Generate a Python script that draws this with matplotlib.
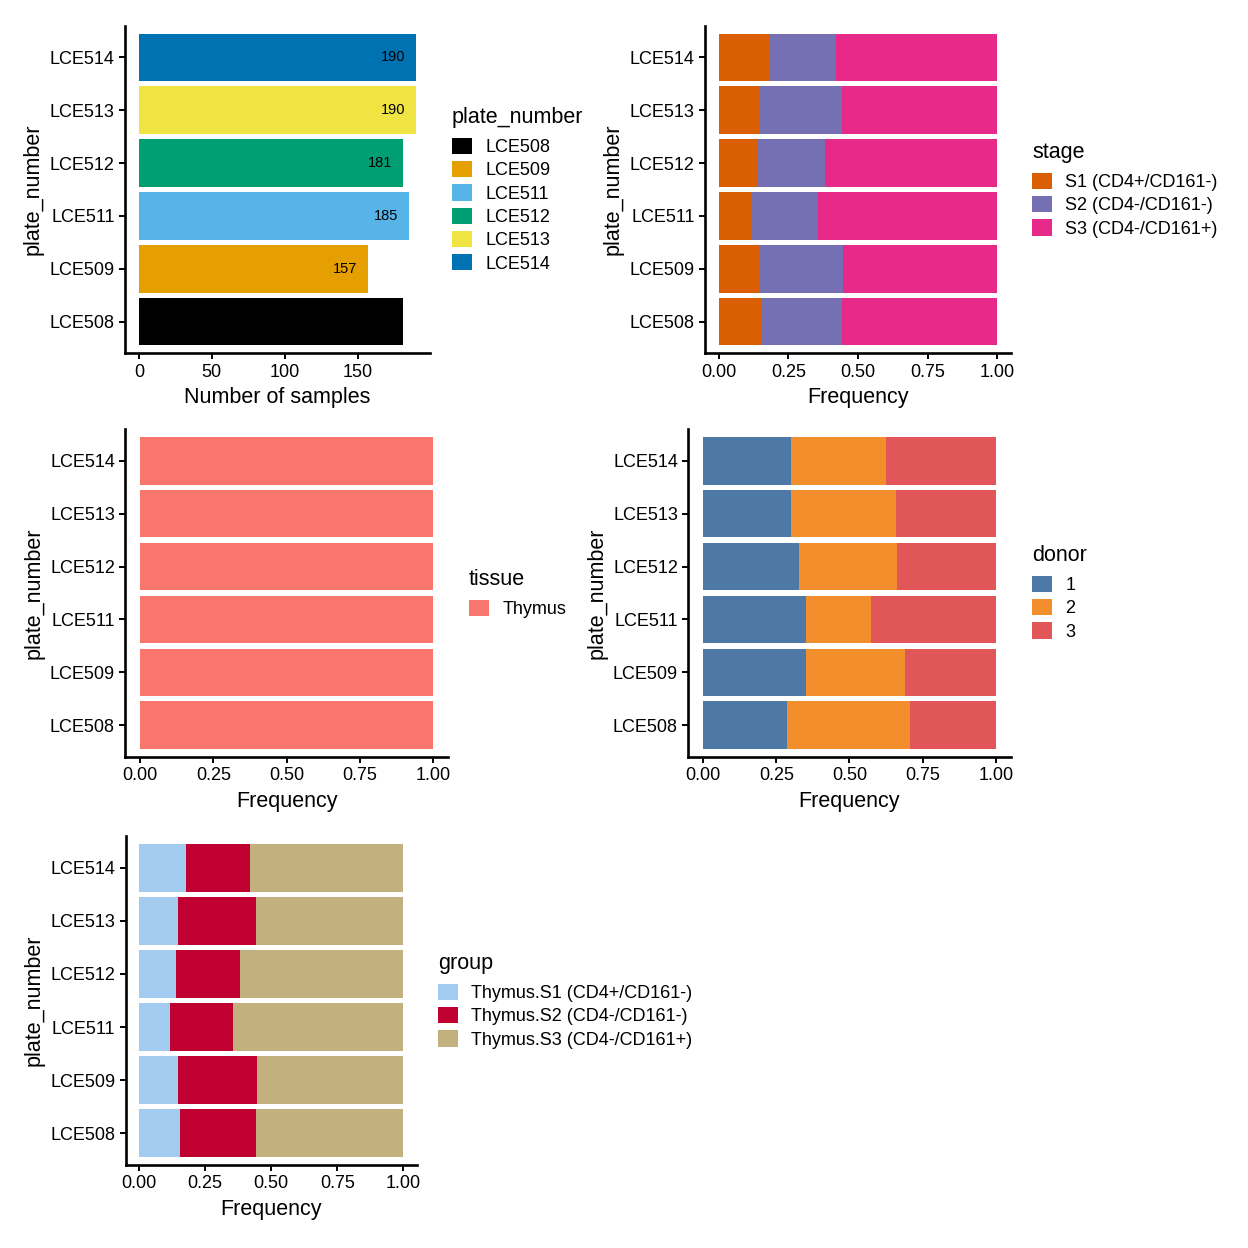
import matplotlib
matplotlib.use('Agg')
import matplotlib.pyplot as plt
from matplotlib.patches import Patch
import numpy as np

plt.rcParams['font.family'] = ['Liberation Sans', 'DejaVu Sans']

# ---------------- data ----------------
plates = ['LCE508', 'LCE509', 'LCE511', 'LCE512', 'LCE513', 'LCE514']
n_samples = [181, 157, 185, 181, 190, 190]
plate_colors = ['#000000', '#E69F00', '#56B4E9', '#009E73', '#F0E442', '#0072B2']

stage_labels = ['S1 (CD4+/CD161-)', 'S2 (CD4-/CD161-)', 'S3 (CD4-/CD161+)']
stage_s1 = [28, 23, 22, 25, 28, 34]
stage_s2 = [52, 47, 44, 44, 56, 46]
stage_s3 = [101, 87, 119, 112, 106, 110]
stage_colors = ['#D95F02', '#7570B3', '#E7298A']

tissue_labels = ['Thymus']
tissue_thymus = [181, 157, 185, 181, 190, 190]
tissue_colors = ['#F8766D']

donor_labels = ['1', '2', '3']
donor_1 = [52, 55, 65, 59, 57, 57]
donor_2 = [76, 53, 41, 61, 68, 62]
donor_3 = [53, 49, 79, 61, 65, 71]
donor_colors = ['#4E79A7', '#F28E2B', '#E15759']

group_labels = ['Thymus.S1 (CD4+/CD161-)', 'Thymus.S2 (CD4-/CD161-)', 'Thymus.S3 (CD4-/CD161+)']
group_s1 = [28, 23, 22, 25, 28, 34]
group_s2 = [52, 47, 44, 44, 56, 46]
group_s3 = [101, 87, 119, 112, 106, 110]
group_colors = ['#A3CBEF', '#C00030', '#C3B07F']

# ---------------- layout ----------------
W = H = 1248
DPI = 100
fig = plt.figure(figsize=(W / DPI, H / DPI), dpi=DPI)

TICK_FS = 13
TITLE_FS = 15.5
LEG_FS = 13


def add_ax(l, t, r, b):
    return fig.add_axes([l / W, 1 - b / H, (r - l) / W, (b - t) / H])


def style(ax, xlabel):
    for s in ['top', 'right']:
        ax.spines[s].set_visible(False)
    for s in ['left', 'bottom']:
        ax.spines[s].set_linewidth(1.9)
        ax.spines[s].set_capstyle('projecting')
    ax.tick_params(axis='both', length=4, width=1.4, labelsize=TICK_FS,
                   colors='black', pad=3.5)
    ax.set_xlabel(xlabel, fontsize=TITLE_FS, labelpad=4.5)
    ax.set_ylabel('plate_number', fontsize=TITLE_FS, labelpad=4)
    ax.set_ylim(-0.6, len(plates) - 0.4)
    ax.set_yticks(range(len(plates)))
    ax.set_yticklabels(plates)


def add_legend(x_px, y_px, title, labels, colors):
    handles = [Patch(facecolor=c, edgecolor='none') for c in colors]
    leg = fig.legend(handles, labels, title=title, loc='upper left',
                     bbox_to_anchor=(x_px / W, 1 - y_px / H),
                     bbox_transform=fig.transFigure,
                     frameon=False, fontsize=LEG_FS, title_fontsize=TITLE_FS,
                     handlelength=1.1, handleheight=1.0, handletextpad=0.75,
                     labelspacing=0.28, borderpad=0, borderaxespad=0,
                     alignment='left')
    leg._legend_box.sep = 7
    return leg


def stacked(ax, series, colors):
    y = np.arange(len(plates))
    tot = np.sum(np.array(series, dtype=float), axis=0)
    left = np.zeros(len(plates))
    for s, c in zip(series, colors):
        frac = np.array(s, dtype=float) / tot
        ax.barh(y, frac, left=left, height=0.9, color=c, edgecolor='none')
        left += frac
    ax.set_xlim(-0.05, 1.05)
    ax.set_xticks([0, 0.25, 0.5, 0.75, 1.0])
    ax.set_xticklabels(['0.00', '0.25', '0.50', '0.75', '1.00'])


# Panel 1: counts
ax1 = add_ax(125, 25.6, 430, 353.4)
y = np.arange(len(plates))
ax1.barh(y, n_samples, height=0.9, color=plate_colors, edgecolor='none')
for yi, v in zip(y, n_samples):
    ax1.annotate(str(v), (v, yi), xytext=(-11, 0), textcoords='offset pixels',
                 ha='right', va='center', fontsize=10.5, color='black')
ax1.set_xlim(-0.05 * 190, 1.05 * 190)
ax1.set_xticks([0, 50, 100, 150])
style(ax1, 'Number of samples')
add_legend(452, 107, 'plate_number', plates, plate_colors)

# Panel 2: stage
ax2 = add_ax(705, 25.6, 1011, 353.4)
stacked(ax2, [stage_s1, stage_s2, stage_s3], stage_colors)
style(ax2, 'Frequency')
add_legend(1032, 142, 'stage', stage_labels, stage_colors)

# Panel 3: tissue
ax3 = add_ax(125.4, 429, 447.6, 757)
stacked(ax3, [tissue_thymus], tissue_colors)
style(ax3, 'Frequency')
add_legend(469, 569, 'tissue', tissue_labels, tissue_colors)

# Panel 4: donor
ax4 = add_ax(688.4, 429, 1010.6, 757)
stacked(ax4, [donor_1, donor_2, donor_3], donor_colors)
style(ax4, 'Frequency')
add_legend(1032, 545, 'donor', donor_labels, donor_colors)

# Panel 5: group
ax5 = add_ax(125.8, 836, 416.5, 1165)
stacked(ax5, [group_s1, group_s2, group_s3], group_colors)
style(ax5, 'Frequency')
add_legend(438, 953, 'group', group_labels, group_colors)

fig.savefig('out.png', dpi=DPI, facecolor='white')
